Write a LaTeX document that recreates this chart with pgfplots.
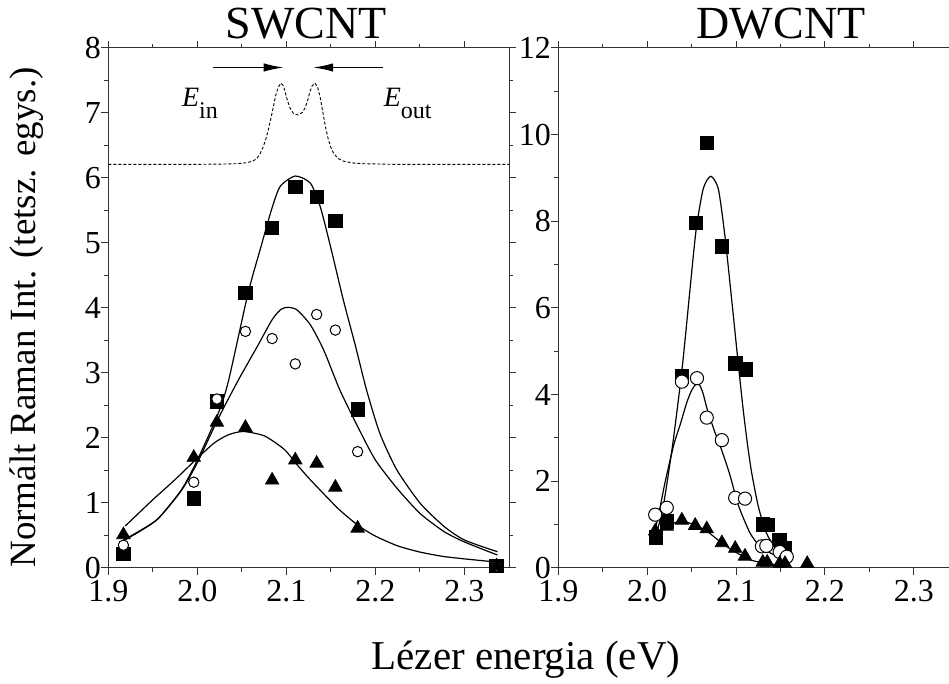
\documentclass[border=0pt]{standalone}
\usepackage{fontspec}
\setmainfont{Liberation Serif}
\usepackage{pgfplots}
\pgfplotsset{compat=1.18}
\usetikzlibrary{arrows.meta}
\pgfplotsset{
 common/.style={
  scale only axis, clip=false,
  tick align=outside,
  major tick length=3.5pt, minor tick length=2pt,
  every tick/.style={black!80, line width=0.5pt},
  axis line style={black!80, line width=0.5pt},
  tick label style={font=\fontsize{16}{19}\selectfont},
  /pgf/number format/assume math mode=true,
  xmin=1.9, ymin=0,
  xtick={1.9,2.0,2.1,2.2,2.3}, minor x tick num=1, minor y tick num=1,
  x tick label style={/pgf/number format/fixed, /pgf/number format/fixed zerofill, /pgf/number format/precision=1, inner sep=0pt, yshift=-2.5pt},
  y tick label style={inner sep=0pt},
 },
 sq/.style={only marks, mark=square*, mark size=3.35pt, mark options={fill=black, draw=black}},
 circ/.style={only marks, mark=*, mark size=#1, mark options={fill=white, draw=black, line width=0.5pt}},
 tri/.style={only marks, mark=triangle*, mark size=3.85pt, mark options={fill=black, draw=black}},
 fit/.style={no markers, black, line width=0.6pt, smooth, tension=0.4},
}
\begin{document}
\begin{tikzpicture}
\begin{axis}[common, at={(54.15pt,58pt)}, anchor=south west, width=200.35pt, height=260pt,
  xmax=2.35, ymax=8, ytick={0,1,...,8}]
\addplot[no markers, black, line width=0.45pt, dash pattern=on 1.5pt off 1pt] coordinates {
(1.90,6.21) (2.00,6.21) (2.03,6.215) (2.045,6.22) (2.0555,6.235) (2.0625,6.26) (2.0667,6.30) (2.070,6.36) (2.074,6.48) (2.077,6.60) (2.080,6.76) (2.083,6.94) (2.0854,7.10) (2.088,7.27) (2.091,7.40) (2.094,7.46) (2.0965,7.42) (2.0985,7.33) (2.101,7.20) (2.104,7.08) (2.108,6.99) (2.113,6.97) (2.118,7.01) (2.121,7.08) (2.124,7.20) (2.1265,7.33) (2.129,7.42) (2.132,7.46) (2.135,7.40) (2.138,7.24) (2.1416,6.96) (2.144,6.78) (2.147,6.60) (2.150,6.47) (2.153,6.38) (2.158,6.30) (2.164,6.26) (2.175,6.23) (2.186,6.22) (2.22,6.21) (2.35,6.21)};
\addplot[fit] coordinates {
(1.917,0.43) (1.935,0.57) (1.956,0.76) (1.982,1.20) (2.0,1.66) (2.0235,2.38) (2.035,2.88) (2.057,4.23) (2.071,4.92) (2.083,5.50) (2.093,5.87) (2.110,6.03) (2.127,5.92) (2.138,5.56) (2.150,4.92) (2.164,4.12) (2.1775,3.42) (2.190,2.74) (2.205,2.07) (2.224,1.51) (2.25,1.0) (2.277,0.64) (2.30,0.43) (2.337,0.25)};
\addplot[fit] coordinates {
(1.917,0.42) (1.935,0.56) (1.956,0.76) (1.982,1.19) (2.0,1.62) (2.0235,2.30) (2.046,2.89) (2.067,3.40) (2.084,3.82) (2.094,3.98) (2.102,4.01) (2.112,3.97) (2.127,3.74) (2.142,3.35) (2.160,2.74) (2.181,2.15) (2.2,1.66) (2.224,1.23) (2.25,0.84) (2.277,0.56) (2.30,0.40) (2.337,0.20)};
\addplot[fit] coordinates {
(1.919,0.646) (1.950,1.05) (1.975,1.36) (2.0,1.69) (2.0196,1.93) (2.035,2.05) (2.0516,2.10) (2.0757,2.03) (2.098,1.82) (2.11,1.62) (2.124,1.40) (2.142,1.14) (2.16,0.89) (2.181,0.65) (2.2,0.49) (2.225,0.34) (2.25,0.245) (2.275,0.18) (2.30,0.14) (2.337,0.09)};
\addplot[sq] coordinates {
(1.917,0.22) (1.996,1.07) (2.022,2.56) (2.054,4.23) (2.084,5.23) (2.110,5.86) (2.134,5.71) (2.155,5.34) (2.180,2.44) (2.336,0.03)};
\addplot[circ=2.6pt] coordinates {
(1.917,0.35) (1.996,1.32) (2.022,2.60) (2.054,3.64) (2.084,3.53) (2.110,3.14) (2.134,3.90) (2.155,3.66) (2.180,1.79) (2.336,0.03)};
\addplot[tri] coordinates {
(1.917,0.51) (1.996,1.70) (2.022,2.24) (2.054,2.16) (2.084,1.35) (2.110,1.66) (2.134,1.61) (2.155,1.24) (2.180,0.61) (2.336,0.03)};
\draw[-{Latex[length=10pt,width=4.2pt]}, line width=0.7pt] (axis cs:2.018,7.70) -- (axis cs:2.097,7.70);
\draw[-{Latex[length=10pt,width=4.2pt]}, line width=0.7pt] (axis cs:2.209,7.70) -- (axis cs:2.130,7.70);
\end{axis}
\begin{axis}[common, at={(279.15pt,58pt)}, anchor=south west, width=195.35pt, height=260pt,
  xmax=2.3395, ymax=12, ytick={0,2,...,12},
  axis x line*=box, axis y line*=left, y axis line style={-}]
\addplot[fit] coordinates {
(2.0088,0.73) (2.0125,0.95) (2.018,1.42) (2.0237,2.15) (2.029,2.90) (2.034,3.70) (2.039,4.55) (2.0435,5.45) (2.048,6.40) (2.055,7.80) (2.063,8.75) (2.0714,9.04) (2.080,8.75) (2.0875,7.65) (2.095,6.20) (2.1025,4.70) (2.108,3.65) (2.1125,2.90) (2.1175,2.20) (2.125,1.42) (2.134,0.81) (2.1457,0.42) (2.157,0.23)};
\addplot[fit] coordinates {
(2.0088,0.89) (2.0125,1.19) (2.020,1.97) (2.030,2.85) (2.037,3.30) (2.0444,3.81) (2.050,4.10) (2.055,4.24) (2.059,4.22) (2.063,4.02) (2.067,3.70) (2.076,3.14) (2.0838,2.72) (2.093,2.15) (2.1025,1.45) (2.1156,0.81) (2.127,0.50) (2.142,0.31) (2.159,0.19)};
\addplot[fit] coordinates {
(2.009,0.80) (2.020,0.95) (2.037,1.08) (2.050,1.02) (2.067,0.85) (2.089,0.50) (2.1156,0.19) (2.142,0.08) (2.159,0.05)};
\addplot[sq, mark size=3.4pt] coordinates {
(2.010,0.70) (2.022,1.08) (2.039,4.42) (2.055,7.96) (2.067,9.81) (2.084,7.42) (2.099,4.72) (2.111,4.58) (2.130,1.00) (2.135,0.99) (2.149,0.65) (2.155,0.46)};
\addplot[circ=3.3pt] coordinates {
(2.009,1.23) (2.022,1.39) (2.039,4.30) (2.056,4.38) (2.067,3.47) (2.084,2.95) (2.099,1.62) (2.110,1.60) (2.129,0.50) (2.134,0.51) (2.149,0.37) (2.157,0.26)};
\addplot[tri] coordinates {
(2.009,0.85) (2.022,0.96) (2.039,1.10) (2.054,0.98) (2.067,0.90) (2.084,0.58) (2.099,0.45) (2.110,0.27) (2.130,0.13) (2.135,0.13) (2.149,0.10) (2.155,0.10) (2.180,0.10)};
\end{axis}
\node[anchor=base, inner sep=0pt, font=\fontsize{23}{28}\selectfont] at (153pt,322.5pt) {SWCNT};
\node[anchor=base, inner sep=0pt, font=\fontsize{23}{28}\selectfont] at (390.5pt,322.5pt) {DWCNT};
\node[anchor=base west, inner sep=0pt] at (90.8pt,288.7pt) {\fontsize{14}{16}\selectfont\itshape E\raisebox{-5.8pt}{\upshape\fontsize{12}{14}\selectfont in}};
\node[anchor=base west, inner sep=0pt] at (191.7pt,288.7pt) {\fontsize{14}{16}\selectfont\itshape E\raisebox{-5.8pt}{\upshape\fontsize{12}{14}\selectfont out}};
\node[rotate=90, anchor=base, inner sep=0pt] at (17.5pt,183.25pt) {\fontsize{18.5}{22}\selectfont Normált Raman Int. (tetsz. egys.)};
\node[anchor=base, inner sep=0pt] at (263pt,7pt) {\fontsize{20.5}{24}\selectfont Lézer energia (eV)};
\pgfresetboundingbox
\path[use as bounding box] (0,0) rectangle (474.5pt,342pt);
\end{tikzpicture}
\end{document}
